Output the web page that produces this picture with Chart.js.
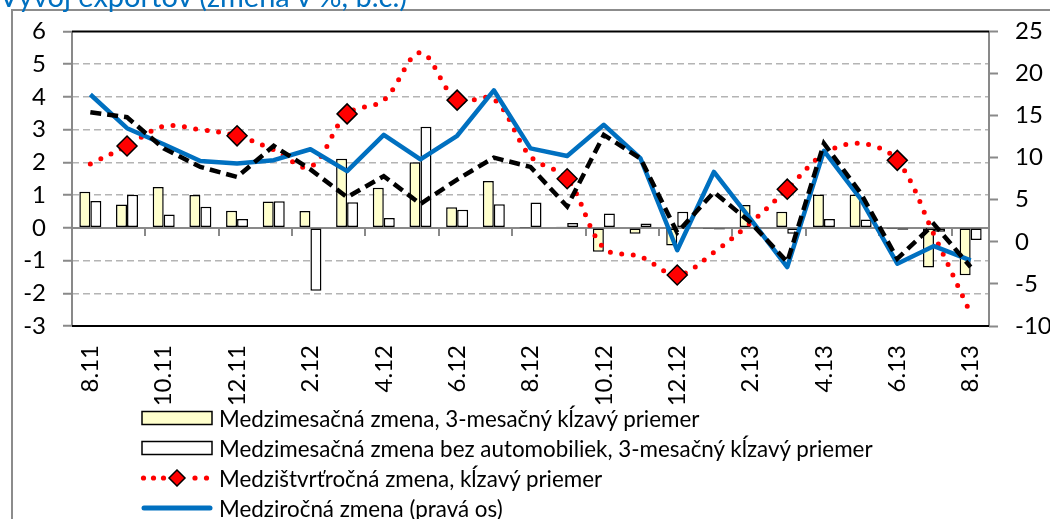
<!DOCTYPE html>
<html><head><meta charset="utf-8">
<script src="https://cdn.jsdelivr.net/npm/chart.js@4.4.1/dist/chart.umd.min.js"></script>
<style>
html,body{margin:0;padding:0;background:#fff;overflow:hidden;width:1050px;height:519px;}
#wrap{position:relative;width:1050px;height:519px;overflow:hidden;}
#frame{position:absolute;left:11px;top:9px;width:1200px;height:700px;border:2px solid #8c8c8c;box-sizing:border-box;}
#c{position:absolute;left:0;top:0;}
#title{position:absolute;left:-1px;top:-19px;font:29px Lato;color:#0070C0;white-space:nowrap;line-height:29px;}
#legend{position:absolute;left:140px;top:403px;font:22.4px Lato;color:#000;}
.row{display:flex;align-items:center;height:30px;white-space:nowrap;}
.row svg{margin-right:5px;flex:none;}
</style></head><body>
<div id="wrap"><div id="frame"></div><canvas id="c" width="1050" height="519"></canvas><div id="title">Vývoj exportov (zmena v %, b.c.)</div><div id="legend"></div></div>
<script>
const categories = ['8.11','9.11','10.11','11.11','12.11','1.12','2.12','3.12','4.12','5.12','6.12','7.12','8.12','9.12','10.12','11.12','12.12','1.13','2.13','3.13','4.13','5.13','6.13','7.13','8.13'];
const momAvg = [1.10,0.71,1.25,1.00,0.52,0.80,0.51,2.11,1.22,2.00,0.63,1.43,0.01,0.03,-0.73,-0.18,-0.54,-0.04,0.70,0.49,1.02,1.02,-0.04,-1.21,-1.45];
const momExCars = [0.82,1.01,0.41,0.64,0.27,0.81,-1.92,0.78,0.30,3.09,0.55,0.72,0.77,0.15,0.44,0.13,0.49,-0.05,0.02,-0.18,0.27,0.25,-0.06,-0.12,-0.37];
const qoqAvg = [1.95,2.50,3.10,3.00,2.81,2.38,1.86,3.48,3.90,5.35,3.90,3.93,2.18,1.50,-0.62,-0.88,-1.44,-0.75,0.15,1.18,2.26,2.58,2.06,-0.21,-2.62];
const qoqMarkers = [false,true,false,false,true,false,false,true,false,false,true,false,false,true,false,false,true,false,false,true,false,false,true,false,false];
const yoy = [17.5,13.5,11.6,9.6,9.3,9.7,11.0,8.4,12.7,9.8,12.6,18.0,11.1,10.2,13.9,9.9,-1.0,8.3,2.7,-3.0,10.8,5.1,-2.6,-0.5,-2.2];
const yoyExCars = [15.4,14.8,11.1,8.9,7.7,11.4,8.6,5.3,7.8,4.5,7.4,10.0,8.9,4.2,12.7,9.9,1.1,5.9,2.3,-2.4,11.7,5.8,-2.0,2.1,-3.0];
const leftTicks = {min:-3, max:6, step:1};
const rightTicks = {min:-10, max:25, step:5};

const FONT = 'Lato';
const TICK_SIZE = 24;
const GRAY = '#898989';

const framePlugin = {
  id: 'frameLines',
  beforeDatasetsDraw(chart) {
    const {ctx, chartArea: a, scales} = chart;
    const x = scales.x, y = scales.y;
    ctx.save();
    const y0 = Math.round(y.getPixelForValue(0));
    ctx.strokeStyle = GRAY; ctx.lineWidth = 2;
    ctx.beginPath(); ctx.moveTo(a.left, y0); ctx.lineTo(a.right, y0); ctx.stroke();
    const step = x.getPixelForValue(1) - x.getPixelForValue(0);
    ctx.beginPath();
    for (let i = 2; i < categories.length; i += 2) {
      const px = Math.round(x.getPixelForValue(i) - step / 2);
      ctx.moveTo(px, y0); ctx.lineTo(px, y0 + 8);
    }
    ctx.stroke();
    ctx.beginPath();
    ctx.moveTo(a.left, a.top); ctx.lineTo(a.left, a.bottom);
    ctx.moveTo(a.right, a.top); ctx.lineTo(a.right, a.bottom);
    ctx.stroke();
    ctx.strokeStyle = '#000';
    ctx.beginPath();
    ctx.moveTo(a.left, a.top); ctx.lineTo(a.right, a.top);
    ctx.moveTo(a.left, a.bottom); ctx.lineTo(a.right, a.bottom);
    ctx.stroke();
    ctx.restore();
  }
};

const htmlLegend = {
  id: 'htmlLegend',
  afterUpdate(chart) {
    const box = document.getElementById('legend');
    box.innerHTML = '';
    chart.data.datasets.forEach(ds => {
      if (!ds.label) return;
      const row = document.createElement('div');
      row.className = 'row';
      let svg = '';
      if (ds.type === 'bar') {
        svg = `<svg width="74" height="16"><rect x="2" y="1.5" width="70" height="13" fill="${ds.backgroundColor}" stroke="#000" stroke-width="1.5"/></svg>`;
      } else if (ds.borderDash && ds.borderDash[0] === 0) {
        const dots = [3.5,13.5,23.5,55,66.5].map(cx => `<circle cx="${cx}" cy="9" r="2.6" fill="${ds.borderColor}"/>`).join('');
        svg = `<svg width="74" height="18">${dots}<polygon points="37,1 45,9 37,17 29,9" fill="${ds.pointBackgroundColor}" stroke="#000" stroke-width="1.5"/></svg>`;
      } else {
        svg = `<svg width="74" height="16"><line x1="4" y1="8" x2="70" y2="8" stroke="${ds.borderColor}" stroke-width="5" stroke-linecap="round"/></svg>`;
      }
      row.innerHTML = svg + '<span>' + ds.label + '</span>';
      box.appendChild(row);
    });
  }
};

new Chart(document.getElementById('c'), {
  data: {
    labels: categories,
    datasets: [
      { type: 'bar', label: 'Medzimesačná zmena, 3-mesačný kĺzavý priemer', data: momAvg, yAxisID: 'y',
        backgroundColor: '#FFFFCC', borderColor: '#000', borderWidth: 1.5, borderSkipped: false,
        categoryPercentage: 0.6, barPercentage: 1.0, order: 3 },
      { type: 'bar', label: 'Medzimesačná zmena bez automobiliek, 3-mesačný kĺzavý priemer', data: momExCars, yAxisID: 'y',
        backgroundColor: '#FFFFFF', borderColor: '#000', borderWidth: 1.5, borderSkipped: false,
        categoryPercentage: 0.6, barPercentage: 1.0, order: 4 },
      { type: 'line', label: 'Medzištvrťročná zmena, kĺzavý priemer', data: qoqAvg, yAxisID: 'y',
        borderColor: '#FF0000', borderWidth: 5, borderDash: [0, 11.5], borderCapStyle: 'round', tension: 0.35,
        pointStyle: 'rectRot', pointRadius: qoqMarkers.map(m => m ? 10 : 0), pointHoverRadius: 0,
        pointBackgroundColor: '#FF0000', pointBorderColor: '#000', pointBorderWidth: 1.5, fill: false, order: 2 },
      { type: 'line', label: 'Medziročná zmena (pravá os)', data: yoy, yAxisID: 'y1',
        borderColor: '#0070C0', borderWidth: 4.5, borderJoinStyle: 'round', pointRadius: 0, tension: 0, fill: false, order: 1 },
      { type: 'line', label: '', data: yoyExCars, yAxisID: 'y1',
        borderColor: '#000000', borderWidth: 4.5, borderDash: [11, 6], pointRadius: 0, tension: 0, fill: false, order: 0 }
    ]
  },
  options: {
    responsive: false,
    animation: false,
    devicePixelRatio: 1,
    layout: { padding: { top: 26, left: 0, right: 0, bottom: 0 }, autoPadding: false },
    plugins: { legend: { display: false }, tooltip: { enabled: false }, title: { display: false } },
    scales: {
      x: {
        type: 'category', offset: true,
        grid: { display: false, drawTicks: false },
        border: { display: false },
        ticks: { autoSkip: false, maxRotation: 90, minRotation: 90, padding: 19,
          color: '#000', font: { family: FONT, size: TICK_SIZE },
          callback: (v, i) => (i % 2 === 0 ? categories[i] : '') },
        afterFit: s => { s.height = 193; }
      },
      y: {
        position: 'left', min: leftTicks.min, max: leftTicks.max,
        ticks: { stepSize: leftTicks.step, padding: 17, color: '#000', font: { family: FONT, size: TICK_SIZE } },
        grid: { color: c => ([0, leftTicks.max, leftTicks.min].includes(c.tick.value) ? 'rgba(0,0,0,0)' : '#B4B4B4'),
          lineWidth: 1.5, tickColor: GRAY, tickLength: 9, tickWidth: 2 },
        border: { display: false, dash: [7, 4] },
        afterFit: s => { s.width = 72; }
      },
      y1: {
        position: 'right', min: rightTicks.min, max: rightTicks.max,
        ticks: { stepSize: rightTicks.step, padding: 17, color: '#000', font: { family: FONT, size: TICK_SIZE } },
        grid: { drawOnChartArea: false, tickColor: GRAY, tickLength: 9, tickWidth: 2 },
        border: { display: false },
        afterFit: s => { s.width = 61; }
      }
    }
  },
  plugins: [framePlugin, htmlLegend]
});
</script>
</body></html>
